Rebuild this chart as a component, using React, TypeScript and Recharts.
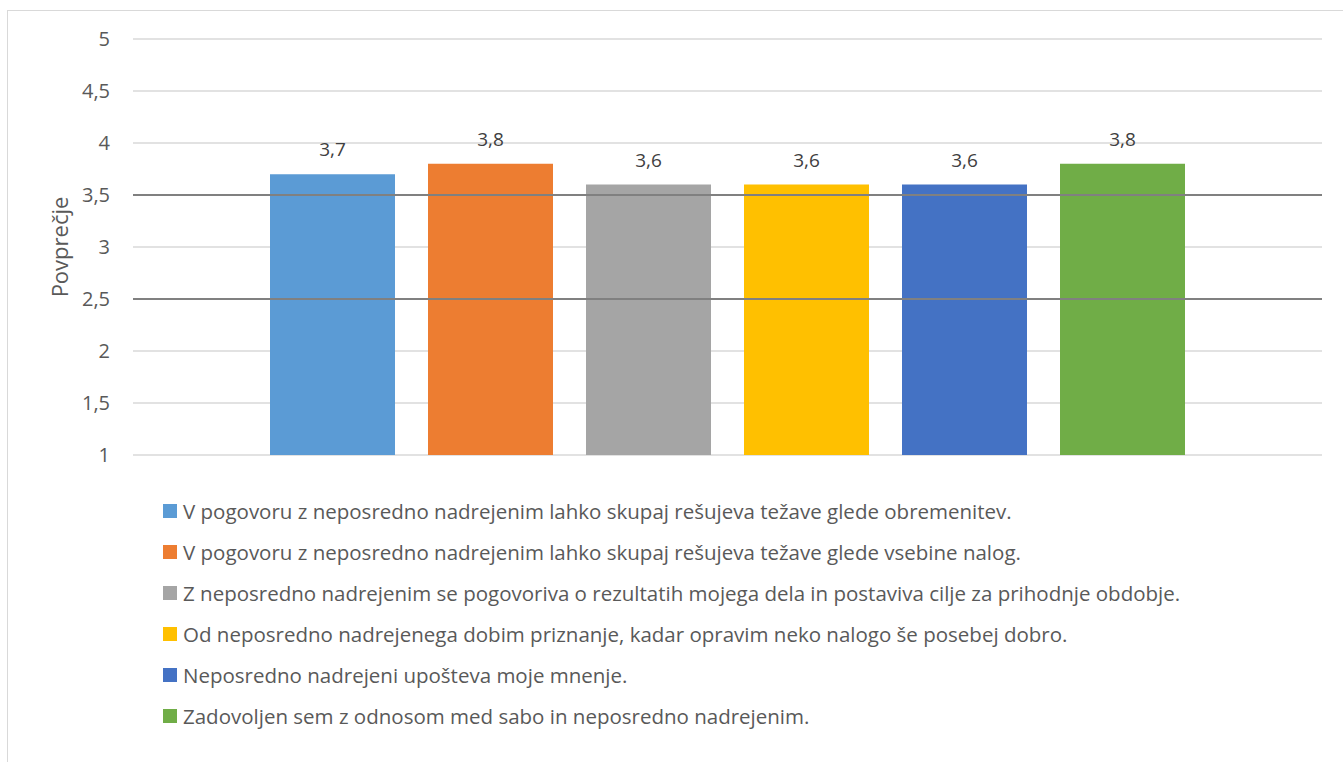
import { BarChart, Bar, XAxis, YAxis, CartesianGrid, ReferenceLine, LabelList } from 'recharts'

const seriesNames = [
  'V pogovoru z neposredno nadrejenim lahko skupaj rešujeva težave glede obremenitev.',
  'V pogovoru z neposredno nadrejenim lahko skupaj rešujeva težave glede vsebine nalog.',
  'Z neposredno nadrejenim se pogovoriva o rezultatih mojega dela in postaviva cilje za prihodnje obdobje.',
  'Od neposredno nadrejenega dobim priznanje, kadar opravim neko nalogo še posebej dobro.',
  'Neposredno nadrejeni upošteva moje mnenje.',
  'Zadovoljen sem z odnosom med sabo in neposredno nadrejenim.',
]
const seriesValues = [3.7, 3.8, 3.6, 3.6, 3.6, 3.8]
const seriesColors = ['#5b9bd5', '#ed7d31', '#a5a5a5', '#ffc000', '#4472c4', '#70ad47']
const yTicks = [1, 1.5, 2, 2.5, 3, 3.5, 4, 4.5, 5]
const refLines = [3.5, 2.5]
const yLabel = 'Povprečje'

const row: Record<string, number | string> = { name: '' }
seriesValues.forEach((v, i) => {
  row[`s${i}`] = v
})
const data = [row]

const fmt = (v: unknown) => String(v).replace('.', ',')
const FONT = '"Open Sans", "Noto Sans", sans-serif'

export default function App() {
  return (
    <div
      style={{
        position: 'fixed',
        left: 0,
        top: 0,
        width: 1343,
        height: 762,
        overflow: 'hidden',
        background: '#fff',
        fontFamily: FONT,
      }}
    >
      <div
        style={{
          position: 'absolute',
          left: 7,
          top: 10,
          width: 1345,
          height: 760,
          border: '1px solid #d9d9d9',
        }}
      />
      <div style={{ position: 'absolute', left: 0, top: 0 }}>
        <BarChart
          width={1343}
          height={762}
          data={data}
          margin={{ top: 39, right: 21, left: 53, bottom: 307 }}
          barGap={33}
        >
          <CartesianGrid vertical={false} stroke="#d9d9d9" strokeWidth={1.3} />
          <XAxis dataKey="name" hide />
          <YAxis
            width={80}
            domain={[1, 5]}
            ticks={yTicks}
            axisLine={false}
            tickLine={false}
            tickSize={0}
            tickMargin={23}
            tickFormatter={fmt}
            tick={{ fill: '#595959', fontSize: 20, fontFamily: FONT }}
            label={{
              value: yLabel,
              angle: -90,
              position: 'insideLeft',
              offset: 7,
              textAnchor: 'middle',
              fill: '#595959',
              fontSize: 22,
              fontFamily: FONT,
            }}
          />
          {seriesValues.map((_, i) => (
            <Bar
              key={i}
              dataKey={`s${i}`}
              name={seriesNames[i]}
              fill={seriesColors[i]}
              barSize={125}
              isAnimationActive={false}
            >
              <LabelList
                dataKey={`s${i}`}
                position="top"
                offset={18}
                formatter={fmt}
                fill="#404040"
                fontSize={19}
                fontFamily={FONT}
              />
            </Bar>
          ))}
          {refLines.map((y) => (
            <ReferenceLine key={y} y={y} stroke="#808080" strokeWidth={2} />
          ))}
        </BarChart>
      </div>
      <div style={{ position: 'absolute', left: 163, top: 490 }}>
        {seriesNames.map((n, i) => (
          <div
            key={i}
            style={{
              display: 'flex',
              alignItems: 'center',
              height: 41,
              fontSize: 20.5,
              color: '#595959',
              whiteSpace: 'nowrap',
            }}
          >
            <span
              style={{
                display: 'inline-block',
                width: 14,
                height: 14,
                background: seriesColors[i],
                marginRight: 6,
              }}
            />
            {n}
          </div>
        ))}
      </div>
    </div>
  )
}
